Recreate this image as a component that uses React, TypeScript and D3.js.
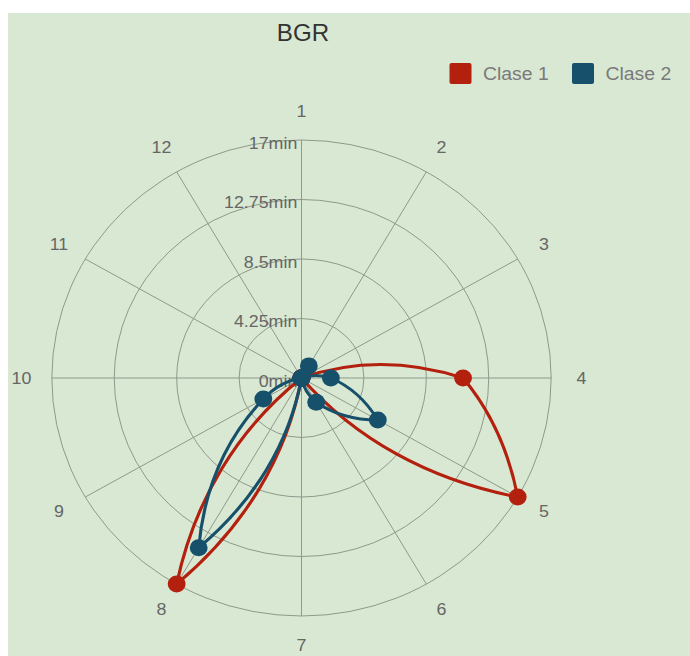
import React from "react";
import * as d3 from "d3";

// Categories around the dial (clockwise from the top)
const categories = ["1", "2", "3", "4", "5", "6", "7", "8", "9", "10", "11", "12"];

// Minutes per category
const clase1 = [0, 0, 0, 11, 17, 0, 0, 17, 0, 0, 0, 0];
const clase2 = [0, 1, 0, 2, 6, 2, 0, 14, 3, 0, 0, 0];

const seriesNames = ["Clase 1", "Clase 2"];
const seriesColors = ["#b3200e", "#16506a"];

const yTicks = [0, 4.25, 8.5, 12.75, 17];
const yTickLabels = ["0min", "4.25min", "8.5min", "12.75min", "17min"];

const title = "BGR";

// Layout
const W = 690;
const H = 656;
const CX = 301.5;
const CY = 378;
const R = 238;
const SX = 1.049; // horizontal stretch of the whole drawing
const LABEL_R = 267;
const FONT = "'Liberation Sans', Arial, Helvetica, sans-serif";

type Pt = { x: number; y: number };

const rScale = d3.scaleLinear().domain([0, 17]).range([0, R]);
const angle = d3
  .scaleLinear()
  .domain([0, categories.length])
  .range([0, 2 * Math.PI]);

// Polar position for a fractional category index and a value
function polar(idx: number, v: number): Pt {
  const a = angle(idx);
  const r = rScale(v);
  return { x: r * Math.sin(a), y: -r * Math.cos(a) };
}

// Closed curve: each step between neighbouring categories is a cubic whose
// control points follow the polar interpolation at 1/3 and 2/3 of the step.
function seriesPath(values: number[]): string {
  const n = values.length;
  const p = d3.path();
  const start = polar(0, values[0]);
  p.moveTo(start.x, start.y);
  for (let i = 0; i < n; i++) {
    const v0 = values[i];
    const v1 = values[(i + 1) % n];
    const c1 = polar(i + 1 / 3, v0 + (v1 - v0) / 3);
    const c2 = polar(i + 2 / 3, v0 + (2 * (v1 - v0)) / 3);
    const end = polar(i + 1, v1);
    p.bezierCurveTo(c1.x, c1.y, c2.x, c2.y, end.x, end.y);
  }
  p.closePath();
  return p.toString();
}

export default function App() {
  const series = [clase1, clase2];
  const gridColor = "#8e998b";
  return (
    <svg
      width={W}
      height={H}
      style={{ position: "absolute", left: 0, top: 0, display: "block" }}
      fontFamily={FONT}
    >
      <rect x={0} y={0} width={W} height={H} fill="#ffffff" />
      <rect x={8} y={13} width={W - 8} height={H - 13} fill="#d9e8d3" />

      <text
        transform={`translate(303,41) scale(${SX},1)`}
        textAnchor="middle"
        fontSize={23}
        fill="#333333"
      >
        {title}
      </text>

      {/* legend */}
      {[449.5, 572].map((lx, k) => (
        <g key={seriesNames[k]}>
          <rect x={lx} y={63} width={22} height={21} rx={2} fill={seriesColors[k]} />
          <text
            transform={`translate(${lx + 33.5},74) scale(${SX},1)`}
            dominantBaseline="central"
            fontSize={18.5}
            fill="#7a7a7a"
          >
            {seriesNames[k]}
          </text>
        </g>
      ))}

      <g transform={`translate(${CX},${CY}) scale(${SX},1)`}>
        {/* rings */}
        {yTicks
          .filter((t) => t > 0)
          .map((t) => (
            <circle
              key={t}
              r={rScale(t)}
              fill="none"
              stroke={gridColor}
              strokeWidth={1}
              vectorEffect="non-scaling-stroke"
            />
          ))}
        {/* spokes */}
        {categories.map((c, i) => {
          const e = polar(i, 17);
          return (
            <line
              key={c}
              x1={0}
              y1={0}
              x2={e.x}
              y2={e.y}
              stroke={gridColor}
              strokeWidth={1}
              vectorEffect="non-scaling-stroke"
            />
          );
        })}
        {/* category labels */}
        {categories.map((c, i) => (
          <text
            key={c}
            x={LABEL_R * Math.sin(angle(i))}
            y={-LABEL_R * Math.cos(angle(i))}
            textAnchor="middle"
            dominantBaseline="central"
            fontSize={17}
            fill="#666666"
          >
            {c}
          </text>
        ))}
        {/* radial axis labels */}
        {yTicks.map((t, k) => (
          <text
            key={t}
            x={-4}
            y={-rScale(t) + 3}
            textAnchor="end"
            dominantBaseline="central"
            fontSize={17}
            fill="#666666"
          >
            {yTickLabels[k]}
          </text>
        ))}
        {/* series */}
        {series.map((vals, s) => (
          <g key={seriesNames[s]}>
            <path
              d={seriesPath(vals)}
              fill="none"
              stroke={seriesColors[s]}
              strokeWidth={3}
              strokeLinejoin="round"
            />
            {vals.map((v, i) => {
              const p = polar(i, v);
              return <circle key={i} cx={p.x} cy={p.y} r={8.5} fill={seriesColors[s]} />;
            })}
          </g>
        ))}
      </g>
    </svg>
  );
}
